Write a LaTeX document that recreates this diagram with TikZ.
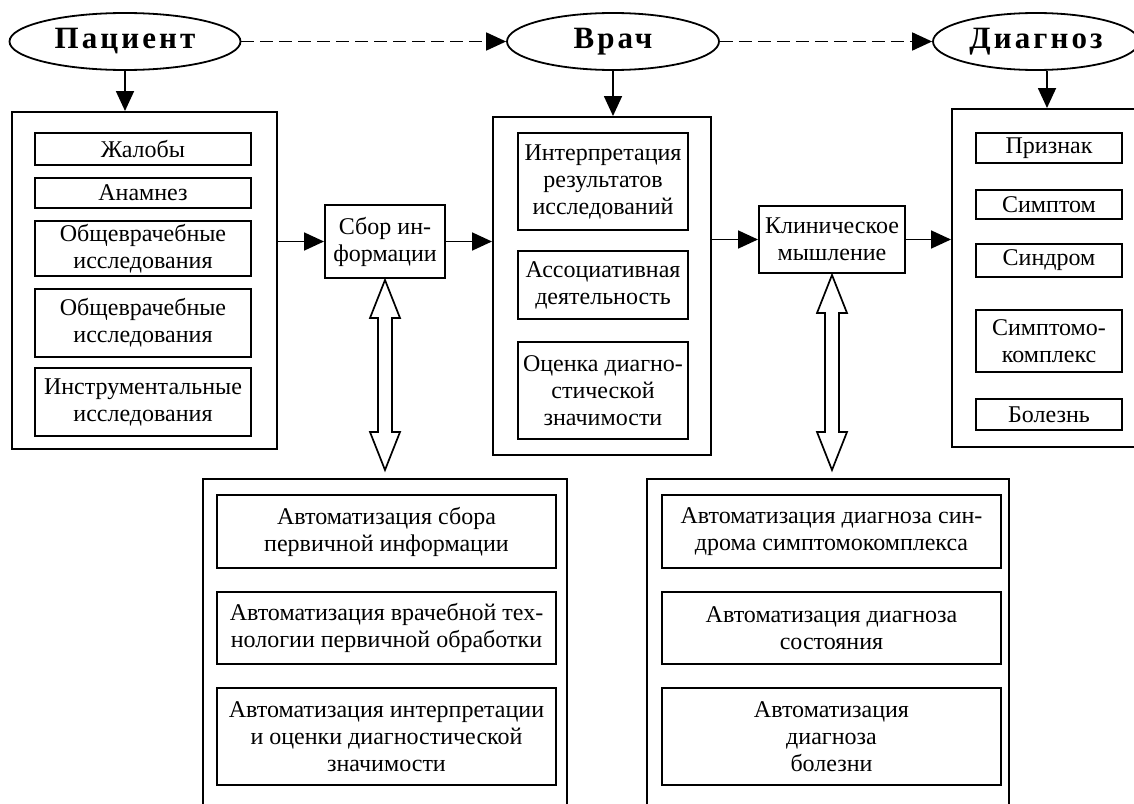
\documentclass[tikz,border=0pt]{standalone}
\usepackage{fontspec}
\setmainfont{Liberation Serif}
\newfontfamily\titlefam[LetterSpace=10]{Liberation Serif}
\usetikzlibrary{shapes.geometric, arrows.meta, positioning, calc}
\tikzstyle{arrow} = [line width=1.8pt, -{Triangle[length=20pt,width=18pt]}]
\tikzstyle{dasharrow} = [arrow, dash pattern=on 13pt off 6pt]
\tikzstyle{hollow} = [line width=1.7pt, fill=white, line join=miter]
\tikzset{
  title/.style={draw, ellipse, line width=1.8pt, minimum height=57pt, inner sep=0pt,
    font=\titlefam\bfseries\fontsize{31}{31}\selectfont},
  outerbox/.style={draw, line width=2pt, inner sep=0pt},
  item/.style={draw, line width=2pt, inner sep=0pt, align=center,
    font=\fontsize{24}{27}\selectfont},
}
% hollow two-headed arrow between two nodes
\newcommand{\dblarrow}[2]{%
  \draw[hollow] let \p1=($(#1)+(0,1)$), \p2=($(#2)+(0,-8)$) in
    (\x1,\y1) -- ++(15,38) -- ++(-8,0) -- (\x1+7pt,\y2+38pt) -- ++(8,0)
    -- (\x1,\y2) -- ++(-15,-38) -- ++(8,0) -- (\x1-7pt,\y1-38pt) -- ++(-8,0) -- cycle;
}

\begin{document}
\begin{tikzpicture}[x=1pt, y=-1pt]
    \useasboundingbox (0,0) rectangle (1134,803);
    \clip (0,0) rectangle (1134,803);

    % Top row
    \node[title, minimum width=231pt] (pat) at (125,41.5) {Пациент};
    \node[title, minimum width=212pt] (vrach) at (613,41.5) {Врач};
    \node[title, minimum width=206pt] (diag) at (1036,41.5) {Диагноз};

    % Patient block
    \node[outerbox, minimum width=265pt, minimum height=337pt] (patbox) at (144.5,280.5) {};
    \node[item, minimum width=216pt, minimum height=32pt] (zhal) at (143,149) {Жалобы};
    \node[item, minimum width=216pt, minimum height=30pt] (anam) at (143,193) {Анамнез};
    \node[item, minimum width=216pt, minimum height=55pt] (obsh1) at (143,248.5) {Общеврачебные\\исследования};
    \node[item, minimum width=216pt, minimum height=68pt] (obsh2) at (143,323) {Общеврачебные\\исследования};
    \node[item, minimum width=216pt, minimum height=68pt] (instr) at (143,402) {Инструментальные\\исследования};

    % Collecting
    \node[item, minimum width=120pt, minimum height=73pt] (sbor) at (385,241.5) {Сбор ин-\\формации};

    % Doctor block
    \node[outerbox, minimum width=218pt, minimum height=338pt] (vrbox) at (602,286) {};
    \node[item, minimum width=170pt, minimum height=97pt] (interp) at (603,181.5) {Интерпретация\\результатов\\исследований};
    \node[item, minimum width=170pt, minimum height=68pt] (assoc) at (603,285) {Ассоциативная\\деятельность};
    \node[item, minimum width=170pt, minimum height=97pt] (ocenka) at (603,390.5) {Оценка диагно-\\стической\\значимости};

    % Thinking
    \node[item, minimum width=146pt, minimum height=67pt] (klin) at (832,239.5) {Клиническое\\мышление};

    % Diagnosis block
    \node[outerbox, minimum width=190pt, minimum height=338pt] (dgbox) at (1047,278) {};
    \node[item, minimum width=146pt, minimum height=30pt] (priz) at (1049,148) {Признак};
    \node[item, minimum width=146pt, minimum height=29pt] (simp) at (1049,204.5) {Симптом};
    \node[item, minimum width=146pt, minimum height=33pt] (sind) at (1049,260.5) {Синдром};
    \node[item, minimum width=146pt, minimum height=62pt] (skompl) at (1049,341) {Симптомо-\\комплекс};
    \node[item, minimum width=146pt, minimum height=31pt] (bolezn) at (1049,414.5) {Болезнь};

    % Automation blocks
    \node[outerbox, minimum width=364pt, minimum height=351pt] (autoL) at (385,654.5) {};
    \node[item, minimum width=339pt, minimum height=73pt] (aL1) at (386.5,531.5) {Автоматизация сбора\\первичной информации};
    \node[item, minimum width=339pt, minimum height=72pt] (aL2) at (386.5,628) {Автоматизация врачебной тех-\\нологии первичной обработки};
    \node[item, minimum width=339pt, minimum height=97pt] (aL3) at (386.5,736.5) {Автоматизация интерпретации\\и оценки диагностической\\значимости};

    \node[outerbox, minimum width=362pt, minimum height=351pt] (autoR) at (828,654.5) {};
    \node[item, minimum width=339pt, minimum height=73pt] (aR1) at (831.5,531.5) {Автоматизация диагноза син-\\дрома симптомокомплекса};
    \node[item, minimum width=339pt, minimum height=72pt] (aR2) at (831.5,628) {Автоматизация диагноза\\состояния};
    \node[item, minimum width=339pt, minimum height=97pt] (aR3) at (831.5,736.5) {Автоматизация\\диагноза\\болезни};

    % Edges
    \draw[dasharrow] (pat) -- (vrach);
    \draw[dasharrow] (vrach) -- (diag);
    \draw[arrow] (pat.south) -- (pat.south |- patbox.north);
    \draw[arrow] (vrach.south) -- (vrach.south |- vrbox.north);
    \draw[arrow] (diag.south -| dgbox.north) -- (dgbox.north);
    \draw[arrow] (sbor.west -| patbox.east) -- (sbor.west);
    \draw[arrow] (sbor.east) -- (sbor.east -| vrbox.west);
    \draw[arrow] (klin.west -| vrbox.east) -- (klin.west);
    \draw[arrow] (klin.east) -- (klin.east -| dgbox.west);

    % Two-way links
    \dblarrow{sbor.south}{autoL.north}
    \dblarrow{klin.south}{autoR.north}
\end{tikzpicture}
\end{document}
